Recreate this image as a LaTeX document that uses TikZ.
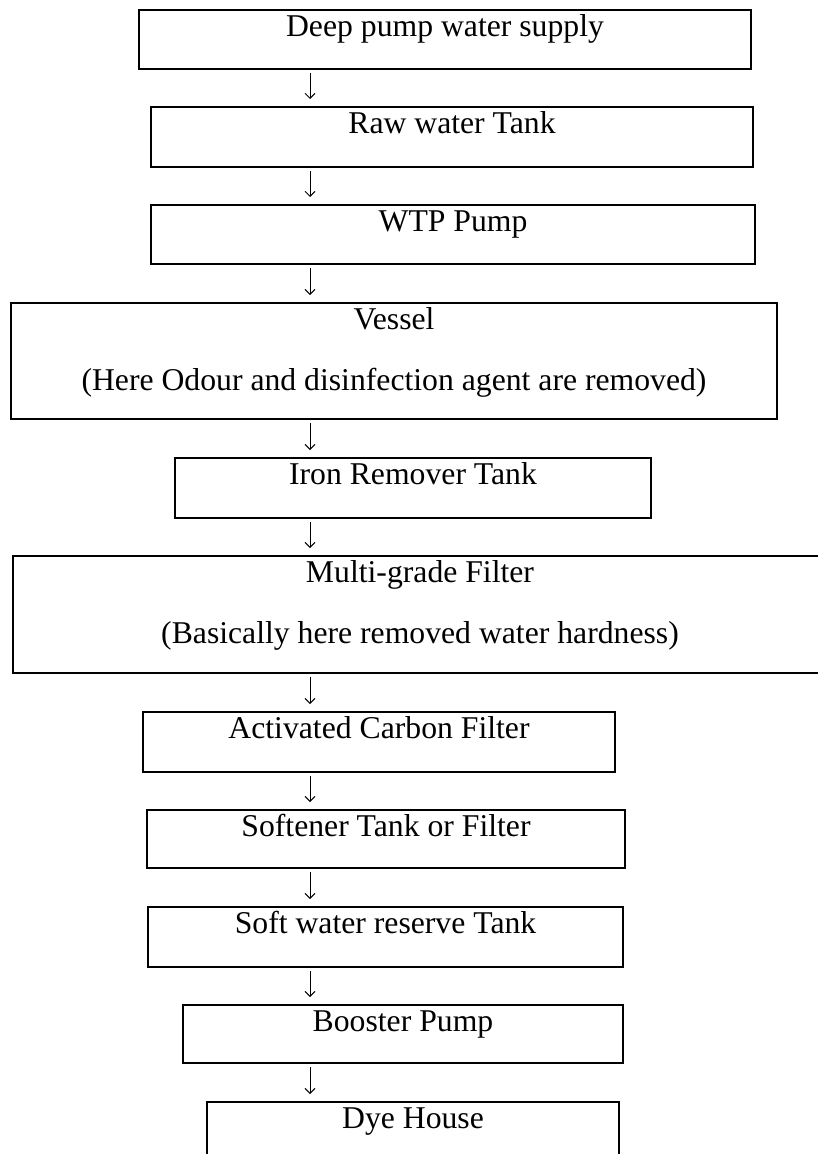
\documentclass[tikz,border=0pt]{standalone}
\usepackage{fontspec}
\setmainfont{Liberation Serif}
\usetikzlibrary{arrows.meta}
\tikzset{
  stage/.style={draw, line width=1.6pt, rectangle, inner sep=0pt, outer sep=0pt, anchor=north west},
  caption/.style={anchor=base, inner sep=0pt, font=\fontsize{31.7}{38}\selectfont},
  flow/.style={line width=0.9pt, -{Straight Barb[length=5pt,width=10pt]}, shorten <=4pt, shorten >=8pt},
}
\begin{document}
\begin{tikzpicture}[x=1pt,y=-1pt]
\useasboundingbox[fill=white] (0,0) rectangle (817,1154);

% process stages (frames)
\node[stage, minimum width=612pt, minimum height=59pt]  (b1)  at (139,10)   {};
\node[stage, minimum width=602pt, minimum height=60pt]  (b2)  at (151,107)  {};
\node[stage, minimum width=604pt, minimum height=59pt]  (b3)  at (151,205)  {};
\node[stage, minimum width=766pt, minimum height=116pt] (b4)  at (11,303)   {};
\node[stage, minimum width=476pt, minimum height=60pt]  (b5)  at (175,458)  {};
\node[stage, minimum width=814pt, minimum height=117pt] (b6)  at (13,556)   {};
\node[stage, minimum width=472pt, minimum height=60pt]  (b7)  at (143,712)  {};
\node[stage, minimum width=478pt, minimum height=58pt]  (b8)  at (147,810)  {};
\node[stage, minimum width=475pt, minimum height=60pt]  (b9)  at (148,907)  {};
\node[stage, minimum width=440pt, minimum height=58pt]  (b10) at (183,1005) {};
\node[stage, minimum width=412pt, minimum height=60pt]  (b11) at (207,1102) {};

% stage captions
\node[caption] (t1)  at ([yshift=-26pt]b1.north)  {Deep pump water supply};
\node[caption] (t2)  at ([yshift=-26pt]b2.north)  {Raw water Tank};
\node[caption] (t3)  at ([yshift=-26pt]b3.north)  {WTP Pump};
\node[caption] (t4)  at ([yshift=-26pt]b4.north)  {Vessel};
\node[caption] (t4b) at ([yshift=-87pt]b4.north)  {(Here Odour and disinfection agent are removed)};
\node[caption] (t5)  at ([yshift=-26pt]b5.north)  {Iron Remover Tank};
\node[caption] (t6)  at ([yshift=-26pt]b6.north)  {Multi-grade Filter};
\node[caption] (t6b) at ([yshift=-87pt]b6.north)  {(Basically here removed water hardness)};
\node[caption] (t7)  at ([yshift=-26pt]b7.north)  {Activated Carbon Filter};
\node[caption] (t8)  at ([yshift=-26pt]b8.north)  {Softener Tank or Filter};
\node[caption] (t9)  at ([yshift=-26pt]b9.north)  {Soft water reserve Tank};
\node[caption] (t10) at ([yshift=-26pt]b10.north) {Booster Pump};
\node[caption] (t11) at ([yshift=-26pt]b11.north) {Dye House};

% flow arrows along one vertical line
\coordinate (axis) at (310,0);
\foreach \a/\b in {b1/b2,b2/b3,b3/b4,b4/b5,b5/b6,b6/b7,b7/b8,b8/b9,b9/b10,b10/b11}
  \draw[flow] (\a.south -| axis) -- (\b.north -| axis);
\end{tikzpicture}
\end{document}
